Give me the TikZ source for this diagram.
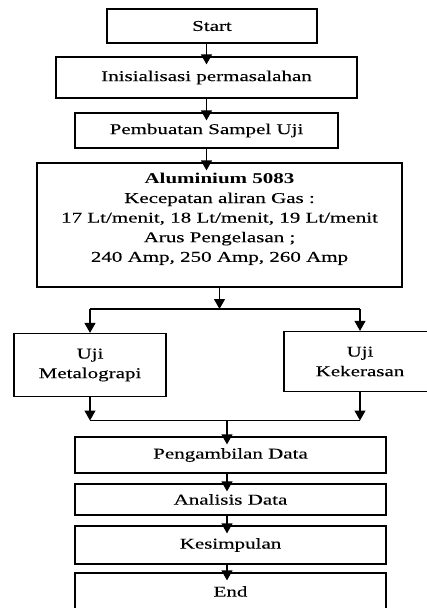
\documentclass[tikz,border=0pt]{standalone}
\usepackage{fontspec}
\setmainfont{Liberation Serif}[FakeStretch=1.4, UprightFeatures={FakeBold=0.2}]
\usepackage{tikz}
\usetikzlibrary{arrows.meta}

\tikzset{
	box/.style={draw, line width=1.2pt, inner sep=0pt, align=center, font=\fontsize{15}{19.6}\selectfont},
	words/.style={inner sep=0pt, align=center, font=\fontsize{15}{19.6}\selectfont},
	flow/.style={line width=1.2pt, -{Triangle[length=10pt,width=11pt]}},
	into/.style={shorten >=-8pt}
}

\begin{document}
\begin{tikzpicture}[x=1pt, y=-1pt]
		\useasboundingbox (0,0) rectangle (427,608);
		\clip (0,0) rectangle (427,608);

		\node[box, minimum width=210pt, minimum height=34pt] (start) at (212,26) {Start};
		\node[box, minimum width=301pt, minimum height=41pt] (init) at (206.5,77.5) {Inisialisasi permasalahan};
		\node[box, minimum width=263pt, minimum height=35pt] (sampel) at (206.5,130.5) {Pembuatan Sampel Uji};
		\node[box, minimum width=365pt, minimum height=124pt] (alu) at (219.5,225) {};
		\node[words] (alutext) at ([yshift=6pt]alu.center) {\textbf{Aluminium 5083}\\Kecepatan aliran Gas :\\17 Lt/menit, 18 Lt/menit, 19 Lt/menit\\Arus Pengelasan ;\\240 Amp, 250 Amp, 260 Amp};

		\node[box, minimum width=152pt, minimum height=63pt] (metal) at (90,365) {Uji\\Metalograpi};
		\node[box, minimum width=152pt, minimum height=60pt] (keras) at (360,361.5) {Uji\\Kekerasan};

		\node[box, minimum width=311pt, minimum height=36pt] (data) at (230.5,455) {Pengambilan Data};
		\node[box, minimum width=311pt, minimum height=31pt] (analisis) at (230.5,499.5) {Analisis Data};
		\node[box, minimum width=311pt, minimum height=38pt] (simpul) at (230.5,545) {Kesimpulan};
		\node[box, minimum width=311pt, minimum height=37pt] (end) at (230.5,591.5) {End};

		\coordinate (fork) at (219.5,309);
		\coordinate (join) at (227,420.5);

		\draw[flow, into] (init.north |- start.south) -- (init.north);
		\draw[flow, into] (init.south) -- (sampel.north);
		\draw[flow, into] (sampel.south) -- (sampel.south |- alu.north);

		% split
		\draw[flow] (alu.south) -- (fork);
		\draw[line width=1.2pt] (metal.north |- fork) -- (keras.north |- fork);
		\draw[flow] (metal.north |- fork) -- (metal.north);
		\draw[flow] (keras.north |- fork) -- (keras.north);

		% merge
		\draw[flow] (metal.south) -- (metal.south |- join);
		\draw[flow] (keras.south) -- (keras.south |- join);
		\draw[line width=1.2pt] (metal.south |- join) -- (keras.south |- join);
		\draw[flow, into] (join) -- (join |- data.north);

		\draw[flow, into] (data.south -| join) -- (analisis.north -| join);
		\draw[flow, into] (analisis.south -| join) -- (simpul.north -| join);
		\draw[flow, into] (simpul.south -| join) -- (end.north -| join);
	\end{tikzpicture}
\end{document}
